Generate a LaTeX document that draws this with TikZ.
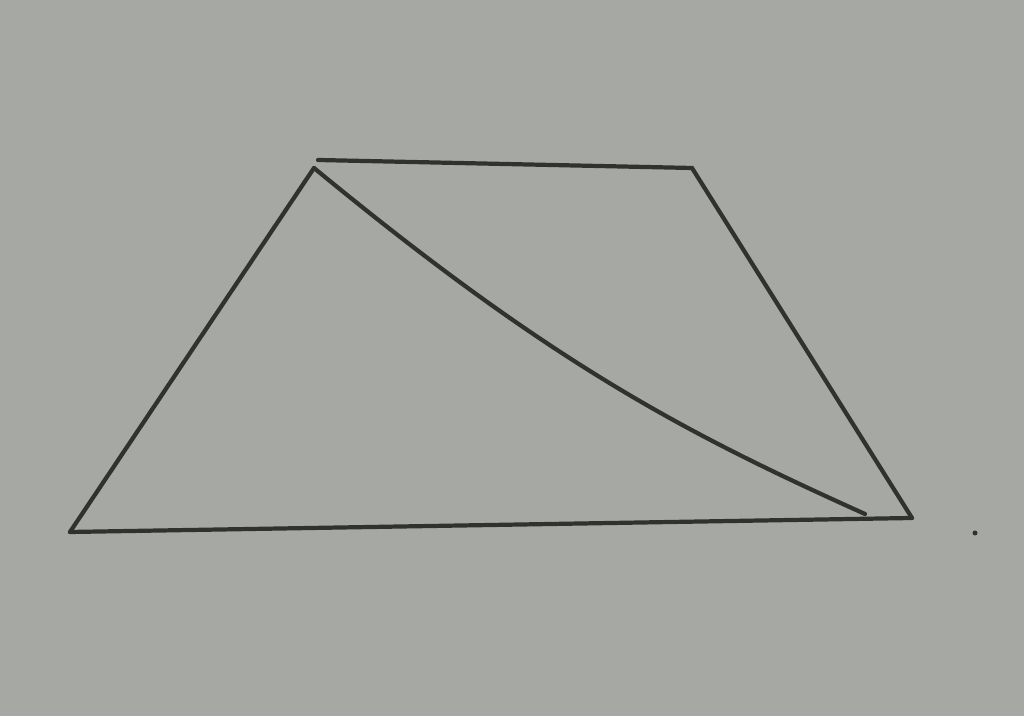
\documentclass[tikz,border=0pt]{standalone}
\usepackage[dvipsnames,svgnames]{xcolor}
\usepackage{tkz-euclide}
\definecolor{paper}{RGB}{166,168,164}
\definecolor{pencil}{RGB}{48,50,48}

\begin{document}
\begin{tikzpicture}
    \fill[paper] (0,0) rectangle (10.24,7.16);
    \useasboundingbox (0,0) rectangle (10.24,7.16);
    \tkzDefPoint(0.70,1.84){A}
    \tkzDefPoint(3.14,5.48){B}
    \tkzDefPoint(6.92,5.48){C}
    \tkzDefPoint(9.12,1.98){D}
    \tkzDefPoint(8.65,2.02){E}
    \tkzDefPoint(3.18,5.56){F}
    \tkzDefPoint(9.75,1.83){G}
    \tkzDrawSegments[color=pencil,line width=1.2pt,line cap=round](F,C C,D D,A A,B)
    \draw[color=pencil,line width=1.2pt,line cap=round]
      (B) .. controls (5.52,3.52) and (6.85,2.83) .. (E);
    \fill[pencil] (G) circle (0.025);
  \end{tikzpicture}
\end{document}
